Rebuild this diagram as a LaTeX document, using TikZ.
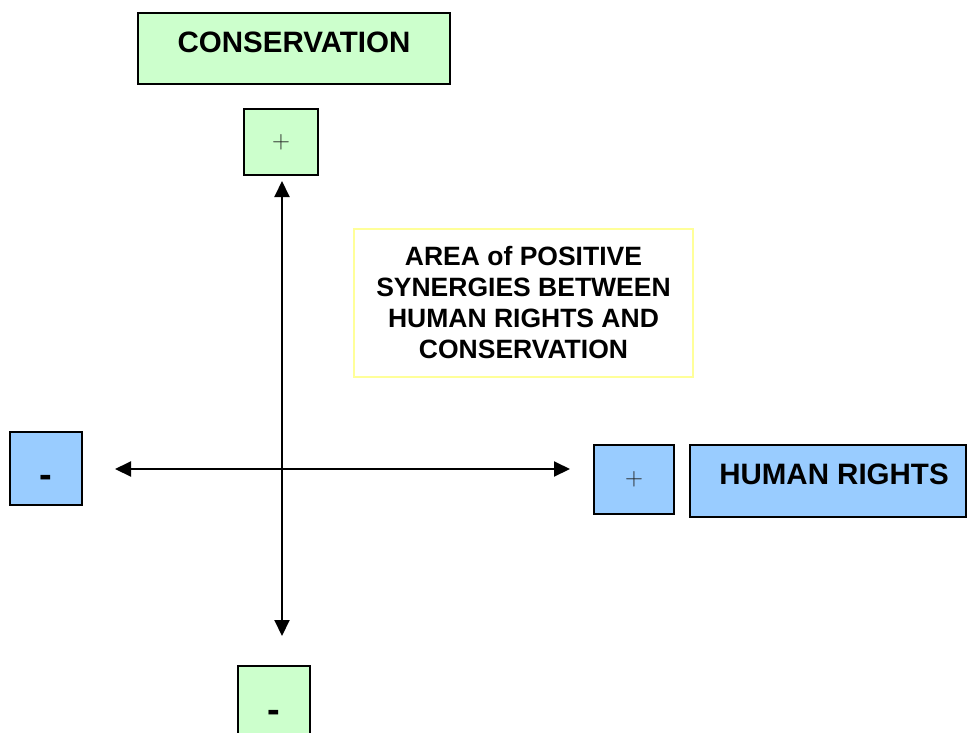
\documentclass[tikz,border=0pt]{standalone}
\usepackage{fontspec}
\setmainfont{Liberation Sans}
\usetikzlibrary{arrows.meta}
\definecolor{lgreen}{HTML}{CCFFCC}
\definecolor{lblue}{HTML}{99CCFF}
\definecolor{lyellow}{HTML}{FFFF99}
\definecolor{plusgray}{HTML}{222222}
\tikzset{
  box/.style={draw=black, line width=2pt, inner sep=0pt, align=center},
  greenbox/.style={box, fill=lgreen},
  bluebox/.style={box, fill=lblue},
  titletext/.style={font=\fontsize{29.5}{34}\selectfont\bfseries},
  plustext/.style={font=\fontsize{26}{30}\selectfont, text=plusgray},
  minustext/.style={font=\fontsize{38}{42}\selectfont\bfseries},
  axis/.style={line width=2pt, {Triangle[length=16pt,width=15pt]}-{Triangle[length=16pt,width=15pt]}}
}
\begin{document}
\begin{tikzpicture}[x=1pt,y=-1pt]
\useasboundingbox (0,0) rectangle (967,732);
\clip (0,0) rectangle (967,732);
% top title
\node[greenbox, titletext, minimum width=312pt, minimum height=71pt, text depth=13pt] (cons) at (294,48.5) {CONSERVATION};
% top plus
\node[greenbox, plustext, minimum width=74pt, minimum height=66pt] (cplus) at (281,142) {$+$};
% area text
\node[draw=lyellow, line width=1.8pt, fill=white, inner sep=0pt, minimum width=339pt, minimum height=148pt, align=center, font=\fontsize{26.5}{31}\selectfont\bfseries] (area) at (523.5,303) {AREA of POSITIVE\\SYNERGIES BETWEEN\\HUMAN RIGHTS AND\\CONSERVATION};
% left minus
\node[bluebox, minustext, minimum width=72pt, minimum height=73pt, text height=38.8pt, text depth=0pt] (hminus) at (46,468.5) {-};
% right plus
\node[bluebox, plustext, minimum width=80pt, minimum height=69pt] (hplus) at (634,479.5) {$+$};
% human rights
\node[bluebox, titletext, minimum width=276pt, minimum height=72pt, text depth=14pt] (hr) at (828,481) {\hspace*{12pt}HUMAN RIGHTS};
% bottom minus
\node[greenbox, minustext, minimum width=72pt, minimum height=90pt, text height=22.8pt, text depth=0pt] (cminus) at (274,711) {-};
% axes
\coordinate (vtop) at (282,181);
\coordinate (vbot) at (282,636);
\coordinate (hleft) at (115,469);
\coordinate (hright) at (570,469);
\draw[axis] (vtop) -- (vbot);
\draw[axis] (hleft) -- (hright);
\end{tikzpicture}
\end{document}
